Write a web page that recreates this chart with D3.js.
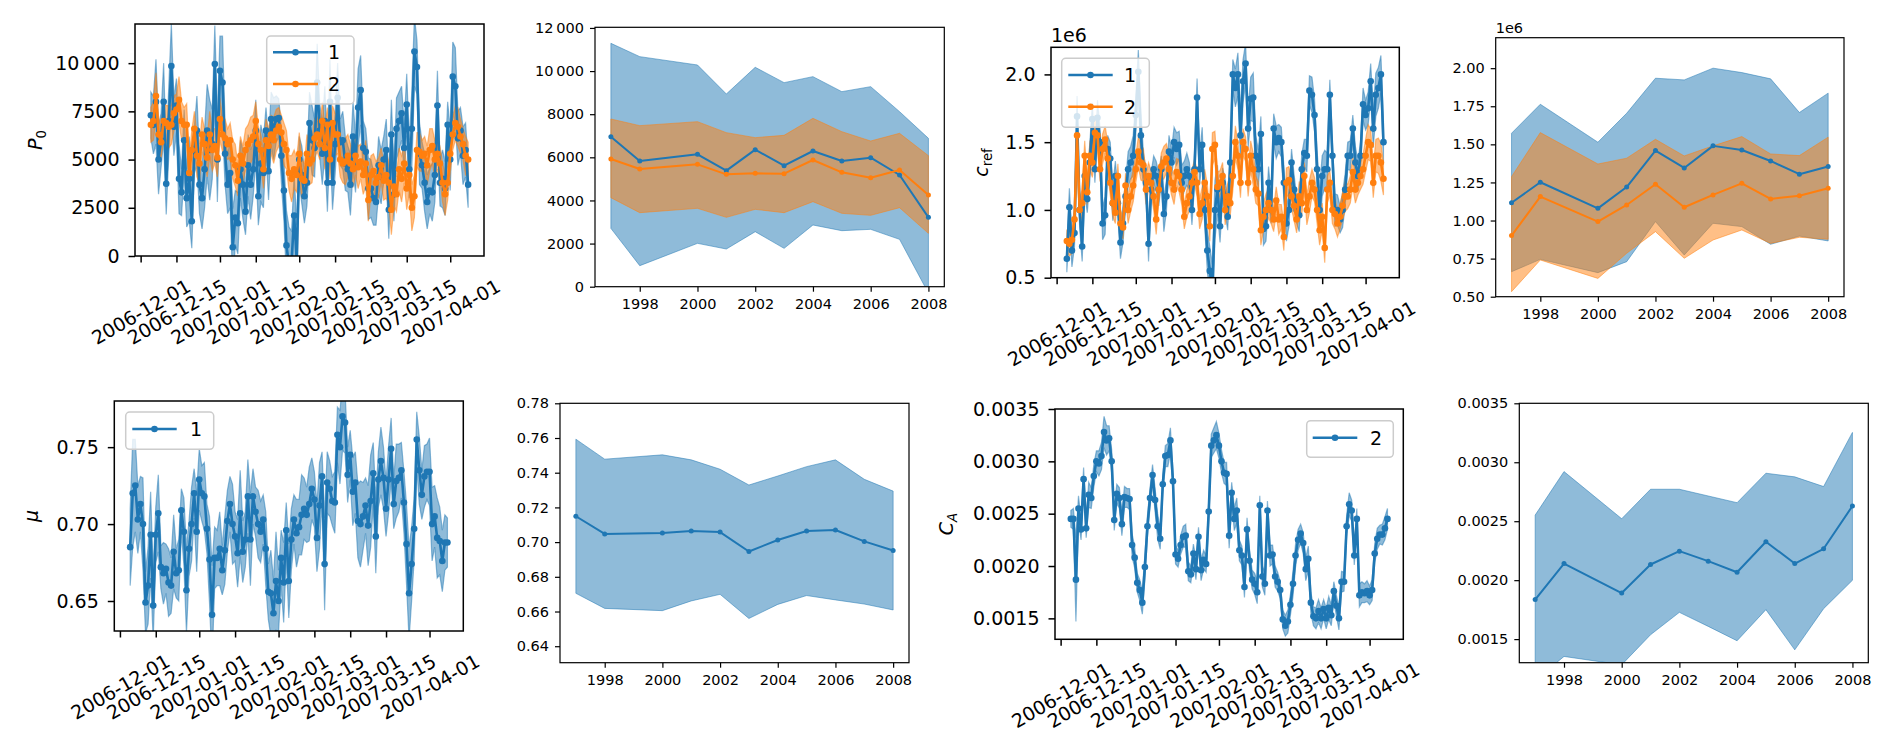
<!DOCTYPE html>
<html>
<head>
<meta charset="utf-8">
<script src="https://cdn.jsdelivr.net/npm/d3@7"></script>
<style>
  html, body { margin: 0; padding: 0; background: #fff; }
  svg { display: block; font-family: "DejaVu Sans", sans-serif; }
</style>
</head>
<body>
<svg id="fig" width="1892" height="752"></svg>
<script>
// ---- daily series (first day 2006-12-05) ----
const tsStart = "2006-12-05";
const tsTicks = ["2006-12-01", "2006-12-15", "2007-01-01", "2007-01-15", "2007-02-01",
                 "2007-02-15", "2007-03-01", "2007-03-15", "2007-04-01"];
const seriesNames = ["1", "2"];

const p0Mean1 = [7300, 6800, 8000, 5000, 6000, 8000, 3750, 7000, 9850, 6700,
  7800, 4000, 3300, 6000, 3000, 4000, 1800, 5500, 6500, 3700,
  3000, 4500, 6500, 5500, 5800, 9950, 5000, 9600, 9000, 5300,
  3700, 4300, 450, 2000, 1700, 4500, 3700, 2300, 4700, 3700,
  4500, 6500, 3100, 4800, 4300, 6500, 4400, 7100, 6600, 7100,
  7150, 5200, 3400, 550, -500, -300, 2100, -200, 5000, 4200,
  3100, 3800, 6900, 6000, 5600, 9000, 6500, 5300, 7000, 3800,
  8000, 3800, 5800, 8200, 5900, 6000, 4800, 4500, 3700, 6200,
  4800, 7700, 8600, 5600, 5400, 3500, 3500, 3000, 2800, 4700,
  4100, 5000, 5500, 2400, 6300, 3200, 6600, 7000, 7400, 5600,
  7850, 4500, 6600, 10600, 9800, 5300, 4700, 3800, 2800, 3400,
  3300, 4200, 7800, 3800, 4000, 3500, 6800, 5000, 9300, 8800,
  6100, 6500, 5200, 5500, 3700];
// half band width, hundreds
const p0Spread1 = [12, 15, 22, 18, 14, 20, 16, 18, 22, 15,
  14, 18, 12, 16, 15, 22, 14, 12, 18, 15,
  16, 20, 24, 26, 18, 20, 22, 18, 24, 16,
  15, 18, 20, 14, 16, 15, 18, 12, 16, 18,
  14, 16, 15, 20, 18, 12, 15, 14, 16, 12,
  10, 14, 16, 18, 20, 16, 22, 18, 12, 15,
  14, 12, 16, 18, 15, 20, 14, 16, 18, 15,
  22, 14, 16, 18, 12, 15, 14, 12, 16, 18,
  15, 20, 18, 14, 12, 16, 15, 14, 12, 15,
  14, 12, 16, 15, 18, 14, 16, 15, 14, 12,
  16, 15, 20, 18, 14, 16, 12, 15, 14, 12,
  15, 14, 18, 12, 15, 14, 12, 16, 18, 20,
  14, 12, 15, 14, 12];
const p0Mean2 = [6800, 7000, 8300, 6300, 5900, 7000, 6900, 6700, 6800, 7400,
  7600, 8100, 7000, 6800, 6800, 4300, 5500, 6600, 5200, 4800,
  6300, 5800, 5100, 6300, 5500, 5700, 5100, 7100, 6300, 6100,
  5800, 6000, 5000, 4700, 3900, 5200, 4800, 5500, 5800, 6000,
  6200, 7000, 5800, 5500, 4500, 6000, 5700, 6300, 6000, 6500,
  6700, 6400, 5800, 5500, 4300, 4000, 4500, 4200, 5300, 4000,
  3900, 5300, 4800, 5000, 6100, 6300, 5800, 7000, 5600, 6800,
  5000, 6900, 6300, 6300, 5000, 4800, 4900, 5200, 4800, 4500,
  5200, 4600, 4900, 4200, 4800, 2900, 4200, 4400, 3800, 4100,
  4700, 3900, 4200, 3800, 2400, 3600, 3200, 4500, 4000, 4800,
  3500, 4200, 2500, 3100, 5500, 5400, 5200, 5300, 4700, 5500,
  5700, 5000, 5300, 4800, 3800, 3200, 3800, 5300, 6300, 6900,
  6700, 6200, 5800, 5200, 5000];
const p0Spread2 = [9, 10, 12, 9, 8, 10, 9, 11, 10, 9,
  8, 12, 10, 9, 11, 8, 10, 9, 11, 10,
  9, 8, 10, 12, 11, 9, 10, 11, 9, 10,
  8, 9, 10, 11, 8, 10, 9, 11, 10, 12,
  11, 10, 9, 8, 10, 11, 9, 10, 12, 11,
  10, 9, 11, 10, 9, 12, 10, 9, 11, 10,
  9, 10, 11, 12, 10, 9, 8, 10, 11, 9,
  10, 9, 11, 10, 9, 10, 12, 11, 10, 9,
  10, 11, 9, 10, 12, 11, 10, 9, 11, 10,
  9, 10, 12, 11, 13, 10, 9, 11, 12, 10,
  11, 10, 12, 11, 9, 10, 8, 9, 10, 11,
  9, 10, 8, 9, 10, 11, 9, 10, 8, 9,
  10, 9, 8, 10, 9];

// c_ref in units of 1e6
const crefMean1 = [0.64, 1.02, 0.70, 0.83, 1.69, 1.00, 0.73, 1.25, 1.08, 1.35,
  1.67, 1.30, 1.68, 1.50, 0.90, 0.96, 1.45, 1.38, 1.05, 1.25,
  1.05, 0.76, 0.90, 1.10, 1.30, 1.35, 1.40, 1.70, 2.02, 1.55,
  1.30, 1.20, 0.75, 1.15, 1.30, 1.25, 1.15, 1.30, 0.97, 1.10,
  1.43, 1.35, 1.50, 1.45, 1.48, 1.20, 1.25, 1.30, 1.25, 1.00,
  1.30, 1.83, 1.30, 1.48, 1.00, 0.70, 0.55, 0.40, 1.00, 1.15,
  0.88, 1.20, 1.10, 0.95, 1.35, 2.00, 1.90, 2.00, 1.55, 1.95,
  2.08, 1.60, 1.82, 1.83, 1.40, 1.30, 1.56, 0.86, 0.88, 1.20,
  1.00, 1.60, 1.50, 1.53, 1.50, 1.20, 0.90, 1.00, 1.35, 1.15,
  1.00, 0.96, 1.30, 1.42, 1.40, 1.88, 1.85, 1.70, 1.30, 1.00,
  1.25, 1.30, 1.30, 1.85, 1.40, 1.00, 1.00, 0.93, 1.00, 1.15,
  1.40, 1.40, 1.60, 1.35, 1.25, 1.40, 1.78, 1.70, 1.75, 1.95,
  1.60, 1.85, 1.90, 2.00, 1.50];
// hundredths
const crefSpread1 = [10, 14, 12, 10, 15, 12, 11, 13, 10, 14,
  12, 10, 13, 11, 12, 14, 10, 12, 13, 11,
  10, 12, 14, 11, 13, 12, 15, 14, 16, 18,
  12, 11, 13, 12, 10, 11, 12, 10, 13, 11,
  12, 10, 11, 12, 10, 13, 11, 12, 10, 11,
  12, 14, 11, 13, 12, 15, 18, 20, 22, 18,
  12, 11, 13, 10, 12, 11, 14, 16, 18, 16,
  15, 14, 16, 18, 15, 14, 13, 12, 11, 12,
  10, 11, 12, 10, 11, 12, 13, 12, 10, 11,
  10, 12, 11, 10, 12, 11, 13, 12, 14, 16,
  15, 14, 12, 11, 10, 12, 11, 10, 13, 12,
  10, 11, 10, 12, 11, 10, 12, 11, 12, 13,
  14, 16, 15, 14, 15];
const crefMean2 = [0.77, 0.75, 0.78, 0.93, 1.55, 1.00, 1.05, 1.40, 1.13, 1.40,
  1.35, 1.57, 1.55, 1.30, 1.45, 1.52, 1.38, 1.20, 1.05, 0.98,
  1.25, 0.90, 0.87, 1.18, 1.00, 1.10, 1.18, 1.30, 1.43, 1.35,
  1.33, 1.15, 1.25, 1.20, 1.10, 0.93, 1.15, 1.32, 1.35, 1.38,
  1.30, 1.20, 1.15, 1.28, 1.25, 1.15, 0.95, 1.05, 1.10, 1.20,
  1.28, 1.20, 0.97, 1.05, 1.20, 1.10, 0.88, 1.45, 1.48, 1.17,
  1.20, 1.25, 1.00, 1.10, 1.05, 1.25, 1.50, 1.40, 1.20, 1.50,
  1.45, 1.20, 1.40, 1.30, 1.15, 1.12, 0.85, 0.95, 1.00, 1.05,
  1.00, 0.93, 1.07, 0.93, 0.95, 0.80, 1.20, 1.22, 1.10, 1.03,
  0.93, 1.10, 1.05, 1.25, 1.00, 1.10, 1.20, 1.15, 1.00, 0.85,
  0.95, 0.72, 1.15, 1.20, 1.00, 0.97, 0.90, 0.95, 1.03, 1.10,
  1.10, 1.15, 1.28, 1.15, 1.20, 1.25, 1.30, 1.40, 1.50, 1.48,
  1.20, 1.40, 1.40, 1.35, 1.23];
const crefSpread2 = [8, 9, 10, 8, 12, 9, 10, 11, 9, 10,
  11, 12, 10, 9, 11, 10, 12, 9, 10, 8,
  9, 10, 8, 9, 10, 11, 12, 10, 11, 13,
  12, 11, 10, 9, 10, 11, 9, 10, 12, 11,
  10, 9, 11, 10, 12, 11, 9, 10, 11, 10,
  9, 10, 11, 12, 10, 9, 11, 12, 10, 11,
  9, 10, 11, 10, 9, 11, 12, 10, 11, 10,
  9, 10, 11, 12, 10, 9, 11, 10, 12, 11,
  10, 9, 10, 11, 9, 10, 11, 10, 9, 11,
  10, 11, 9, 10, 11, 12, 10, 9, 10, 11,
  10, 11, 10, 9, 10, 11, 10, 9, 10, 11,
  9, 10, 11, 10, 9, 10, 11, 12, 13, 12,
  11, 12, 13, 14, 12];

const muMean = [0.685, 0.720, 0.725, 0.703, 0.713, 0.700, 0.649, 0.660, 0.693, 0.647,
  0.693, 0.707, 0.672, 0.668, 0.671, 0.662, 0.660, 0.682, 0.668, 0.670,
  0.709, 0.695, 0.657, 0.684, 0.700, 0.720, 0.695, 0.729, 0.720, 0.718,
  0.697, 0.677, 0.641, 0.678, 0.678, 0.684, 0.670, 0.683, 0.702, 0.713,
  0.700, 0.692, 0.681, 0.707, 0.682, 0.690, 0.718, 0.690, 0.718, 0.708,
  0.700, 0.695, 0.703, 0.684, 0.656, 0.655, 0.642, 0.663, 0.650, 0.678,
  0.662, 0.696, 0.663, 0.690, 0.703, 0.694, 0.698, 0.706, 0.710, 0.706,
  0.713, 0.723, 0.716, 0.691, 0.712, 0.731, 0.674, 0.727, 0.723, 0.715,
  0.714, 0.758, 0.750, 0.770, 0.766, 0.732, 0.745, 0.721, 0.727, 0.702,
  0.700, 0.705, 0.712, 0.699, 0.715, 0.733, 0.692, 0.729, 0.741, 0.730,
  0.710, 0.729, 0.749, 0.713, 0.728, 0.730, 0.735, 0.714, 0.687, 0.655,
  0.674, 0.697, 0.755, 0.735, 0.719, 0.731, 0.734, 0.734, 0.700, 0.705,
  0.691, 0.689, 0.676, 0.688, 0.688];
// thousandths
const muSpread = [25, 35, 30, 22, 18, 30, 20, 25, 28, 22,
  18, 25, 14, 20, 16, 22, 18, 24, 16, 20,
  14, 22, 28, 18, 24, 16, 26, 20, 18, 22,
  16, 28, 32, 20, 18, 24, 16, 22, 20, 18,
  26, 16, 22, 28, 20, 18, 24, 30, 18, 16,
  22, 20, 16, 24, 18, 28, 22, 32, 20, 18,
  26, 18, 24, 20, 16, 22, 18, 26, 20, 18,
  24, 20, 18, 22, 28, 16, 30, 20, 18, 16,
  20, 18, 24, 22, 20, 18, 16, 22, 20, 24,
  28, 22, 18, 26, 30, 20, 24, 18, 22, 20,
  18, 22, 20, 16, 24, 22, 18, 20, 26, 30,
  24, 20, 18, 22, 16, 20, 18, 22, 24, 20,
  26, 22, 20, 18, 16];

const caMean = [0.00245, 0.00245, 0.00187, 0.00255, 0.00235, 0.00283, 0.00236, 0.00268, 0.00265, 0.00286,
  0.00300, 0.00298, 0.00305, 0.00328, 0.00320, 0.00322, 0.00300, 0.00244, 0.00269, 0.00265,
  0.00240, 0.00266, 0.00265, 0.00264, 0.00220, 0.00208, 0.00184, 0.00177, 0.00165, 0.00199,
  0.00238, 0.00265, 0.00287, 0.00263, 0.00238, 0.00226, 0.00278, 0.00305, 0.00306, 0.00320,
  0.00281, 0.00211, 0.00207, 0.00220, 0.00228, 0.00229, 0.00195, 0.00192, 0.00212, 0.00197,
  0.00228, 0.00196, 0.00206, 0.00202, 0.00252, 0.00315, 0.00320, 0.00325, 0.00315, 0.00300,
  0.00289, 0.00288, 0.00229, 0.00270, 0.00245, 0.00253, 0.00215, 0.00210, 0.00180, 0.00235,
  0.00205, 0.00187, 0.00183, 0.00175, 0.00258, 0.00190, 0.00183, 0.00253, 0.00210, 0.00211,
  0.00190, 0.00185, 0.00177, 0.00149, 0.00143, 0.00147, 0.00163, 0.00183, 0.00210, 0.00225,
  0.00231, 0.00222, 0.00197, 0.00207, 0.00165, 0.00152, 0.00150, 0.00157, 0.00150, 0.00159,
  0.00150, 0.00160, 0.00153, 0.00176, 0.00162, 0.00150, 0.00185, 0.00185, 0.00238, 0.00259,
  0.00253, 0.00210, 0.00245, 0.00172, 0.00175, 0.00174, 0.00176, 0.00172, 0.00177, 0.00212,
  0.00226, 0.00230, 0.00230, 0.00236, 0.00245];
// units of 1e-5
const caSpread = [8, 10, 40, 12, 10, 11, 9, 12, 10, 11,
  10, 12, 13, 15, 14, 12, 11, 10, 9, 10,
  11, 10, 9, 10, 11, 10, 9, 10, 11, 12,
  10, 9, 10, 11, 12, 10, 9, 10, 11, 12,
  10, 9, 8, 9, 10, 11, 9, 8, 9, 10,
  9, 10, 9, 8, 10, 11, 12, 13, 12, 11,
  10, 11, 12, 10, 11, 12, 10, 9, 10, 11,
  10, 9, 10, 11, 9, 10, 11, 9, 10, 9,
  10, 9, 8, 9, 10, 11, 10, 12, 11, 10,
  9, 10, 11, 12, 10, 9, 10, 11, 10, 9,
  10, 11, 10, 9, 10, 11, 10, 9, 10, 11,
  10, 9, 10, 11, 10, 9, 10, 9, 10, 9,
  10, 9, 10, 11, 10];

// ---- yearly summaries ----
const years = [1997, 1998, 2000, 2001, 2002, 2003, 2004, 2005, 2006, 2007, 2008];
const yearTicks = [1998, 2000, 2002, 2004, 2006, 2008];

const p0YrMean1 = [6958, 5830, 6139, 5381, 6355, 5613, 6293, 5830, 5984, 5180, 3216];
const p0YrHi1 = [11288, 10670, 10283, 8938, 10175, 9464, 9742, 9046, 9278, 8118, 6881];
const p0YrLo1 = [2706, 974, 2010, 1747, 2551, 1778, 2861, 2598, 2660, 2196, -300];
const p0YrMean2 = [5922, 5458, 5675, 5211, 5257, 5242, 5876, 5304, 5056, 5412, 4252];
const p0YrHi2 = [7778, 7469, 7654, 7144, 6912, 7020, 7809, 7190, 6757, 7113, 6077];
const p0YrLo2 = [4129, 3433, 3634, 3216, 3587, 3433, 3943, 3402, 3309, 3665, 2474];

const crefYrMean1 = [1.117, 1.251, 1.080, 1.220, 1.459, 1.345, 1.490, 1.463, 1.391, 1.304, 1.354];
const crefYrHi1 = [1.573, 1.763, 1.514, 1.704, 1.934, 1.923, 2.000, 1.971, 1.930, 1.709, 1.836];
const crefYrLo1 = [0.664, 0.745, 0.658, 0.730, 0.993, 0.774, 0.982, 0.960, 0.844, 0.898, 0.866];
const crefYrMean2 = [0.901, 1.157, 0.993, 1.102, 1.238, 1.087, 1.168, 1.244, 1.142, 1.163, 1.212];
const crefYrHi2 = [1.288, 1.577, 1.371, 1.409, 1.533, 1.424, 1.490, 1.551, 1.437, 1.426, 1.547];
const crefYrLo2 = [0.533, 0.741, 0.620, 0.785, 0.927, 0.752, 0.872, 0.938, 0.850, 0.890, 0.877];

const muYrMean = [0.7149, 0.7047, 0.7053, 0.7064, 0.7058, 0.6946, 0.7012, 0.7064, 0.7070, 0.7004, 0.6952];
const muYrHi = [0.7593, 0.7478, 0.7503, 0.7474, 0.7420, 0.7329, 0.7381, 0.7435, 0.7474, 0.7362, 0.7294];
const muYrLo = [0.6705, 0.6618, 0.6605, 0.6661, 0.6699, 0.6560, 0.6641, 0.6692, 0.6667, 0.6643, 0.6609];

const caYrMean = [0.001835, 0.002141, 0.001891, 0.002133, 0.002246, 0.002161, 0.002067, 0.002326, 0.002141, 0.002266, 0.002629];
const caYrHi = [0.002552, 0.002921, 0.002521, 0.002771, 0.002771, 0.002714, 0.002657, 0.002907, 0.002876, 0.002794, 0.003253];
const caYrLo = [0.00115, 0.001353, 0.001282, 0.001537, 0.001727, 0.001608, 0.001486, 0.001750, 0.001409, 0.001758, 0.001999];

// ---- axis ticks ----
const p0Ticks = [0, 2500, 5000, 7500, 10000];
const p0YrTicks = [0, 2000, 4000, 6000, 8000, 10000, 12000];
const crefTicks = [0.5, 1.0, 1.5, 2.0];
const crefYrTicks = [0.5, 0.75, 1.0, 1.25, 1.5, 1.75, 2.0];
const muTicks = [0.65, 0.70, 0.75];
const muYrTicks = [0.64, 0.66, 0.68, 0.70, 0.72, 0.74, 0.76, 0.78];
const caTicks = [0.0015, 0.0020, 0.0025, 0.0030, 0.0035];

// ------------------------------------------------------------
const svg = d3.select("#fig");
const blue = "#1f77b4", orange = "#ff7f0e";
const FONT = "DejaVu Sans, sans-serif";
const parse = d3.timeParse("%Y-%m-%d");
const day0 = parse(tsStart);
const dates = d3.range(p0Mean1.length).map(i => d3.timeDay.offset(day0, i));

const big = {fs: 19, tick: 6.5, pad: 9, lw: 1.5, frame: 1.5, line: 2.6, r: 3.3, band: 1.2};
const small = {fs: 14.5, tick: 5, pad: 6, lw: 1.2, frame: 1.2, line: 2, r: 2.5, band: 1};

function fmtP0(v) {
  if (v >= 10000) return Math.floor(v / 1000) + "\u2009" + d3.format("03d")(v % 1000);
  return String(v);
}

function band(mean, spread, unit) {
  return {
    lo: mean.map((m, i) => m - spread[i] * unit),
    hi: mean.map((m, i) => m + spread[i] * unit)
  };
}

function styleAxis(a, st) {
  a.attr("font-family", FONT).attr("font-size", st.fs);
  a.select(".domain").remove();
  a.selectAll(".tick line").attr("stroke", "#000").attr("stroke-width", st.lw);
  a.selectAll(".tick text").attr("fill", "#000");
}

let clipId = 0;
function panel(o) {
  const st = o.st;
  const w = o.right - o.left, h = o.bottom - o.top;
  const g = svg.append("g").attr("transform", `translate(${o.left},${o.top})`);
  const x = o.x.range([0, w]);
  const y = d3.scaleLinear().domain(o.ylim).range([h, 0]);
  const id = "clip" + (clipId++);
  g.append("clipPath").attr("id", id).append("rect").attr("width", w).attr("height", h);
  const plot = g.append("g").attr("clip-path", `url(#${id})`);

  // bands under all lines
  o.series.forEach(s => {
    const area = d3.area()
      .x((d, i) => x(o.xs[i]))
      .y0((d, i) => y(s.lo[i]))
      .y1((d, i) => y(s.hi[i]));
    plot.append("path").datum(s.mean).attr("d", area)
      .attr("fill", s.color).attr("fill-opacity", 0.5)
      .attr("stroke", s.color).attr("stroke-opacity", 0.5).attr("stroke-width", st.band);
  });
  o.series.forEach(s => {
    const line = d3.line().x((d, i) => x(o.xs[i])).y(d => y(d));
    plot.append("path").datum(s.mean).attr("d", line)
      .attr("fill", "none").attr("stroke", s.color)
      .attr("stroke-width", st.line).attr("stroke-linejoin", "round");
    plot.append("g").selectAll("circle").data(s.mean).join("circle")
      .attr("cx", (d, i) => x(o.xs[i])).attr("cy", d => y(d))
      .attr("r", st.r).attr("fill", s.color);
  });

  const ya = g.append("g")
    .call(d3.axisLeft(y).tickValues(o.yticks).tickFormat(o.yfmt).tickSize(st.tick).tickPadding(st.pad));
  styleAxis(ya, st);

  const xa = g.append("g").attr("transform", `translate(0,${h})`)
    .call(d3.axisBottom(x).tickValues(o.xticks).tickFormat(o.xfmt).tickSize(st.tick).tickPadding(7));
  styleAxis(xa, st);
  if (o.rotate) {
    xa.selectAll(".tick text")
      .attr("y", 0).attr("dy", "0.35em").attr("text-anchor", "middle")
      .attr("transform", "translate(0,56) rotate(-30)");
  }

  g.append("rect").attr("width", w).attr("height", h)
    .attr("fill", "none").attr("stroke", "#000").attr("stroke-width", st.frame);

  if (o.offset) {
    g.append("text").attr("x", 0).attr("y", -o.offset.dy)
      .attr("font-size", st.fs).attr("fill", "#000").text(o.offset.text);
  }
}

function legend(L) {
  const g = svg.append("g").attr("font-size", 19);
  g.append("rect").attr("x", L.x0).attr("y", L.y0)
    .attr("width", L.x1 - L.x0).attr("height", L.y1 - L.y0).attr("rx", 4)
    .attr("fill", "#fff").attr("fill-opacity", 0.8)
    .attr("stroke", "#cccccc").attr("stroke-width", 1.5);
  L.items.forEach((it, i) => {
    const yy = L.rows[i];
    g.append("line").attr("x1", L.lx0).attr("x2", L.lx1).attr("y1", yy).attr("y2", yy)
      .attr("stroke", it.color).attr("stroke-width", 2.6);
    g.append("circle").attr("cx", (L.lx0 + L.lx1) / 2).attr("cy", yy).attr("r", 3.3).attr("fill", it.color);
    g.append("text").attr("x", L.tx).attr("y", yy).attr("dy", "0.36em").attr("fill", "#000").text(it.label);
  });
}

function ylabel(x, y, parts) {
  const t = svg.append("text").attr("transform", `translate(${x},${y}) rotate(-90)`)
    .attr("text-anchor", "middle").attr("font-size", 19).attr("fill", "#000");
  parts.forEach(p => {
    const ts = t.append("tspan").text(p.t);
    if (p.italic) ts.attr("font-style", "italic");
    if (p.sub) ts.attr("font-size", 13.3).attr("dy", 4);
  });
}

function timeScale() {
  const a = dates[0], b = dates[dates.length - 1], pad = 0.05 * (b - a);
  return d3.scaleTime().domain([new Date(+a - pad), new Date(+b + pad)]);
}
function yearScale() {
  const a = years[0], b = years[years.length - 1], pad = 0.05 * (b - a);
  return d3.scaleLinear().domain([a - pad, b + pad]);
}
const tsTickDates = tsTicks.map(parse);
const fmtDate = d3.timeFormat("%Y-%m-%d");

const p0b1 = band(p0Mean1, p0Spread1, 100), p0b2 = band(p0Mean2, p0Spread2, 100);
const crb1 = band(crefMean1, crefSpread1, 0.01), crb2 = band(crefMean2, crefSpread2, 0.01);
const mub = band(muMean, muSpread, 0.001), cab = band(caMean, caSpread, 0.00001);

// row 1
panel({left: 135, top: 24, right: 484, bottom: 256, st: big, x: timeScale(), xs: dates,
  ylim: [0, 12030], yticks: p0Ticks, yfmt: fmtP0, xticks: tsTickDates, xfmt: fmtDate, rotate: true,
  series: [{mean: p0Mean1, lo: p0b1.lo, hi: p0b1.hi, color: blue},
           {mean: p0Mean2, lo: p0b2.lo, hi: p0b2.hi, color: orange}]});
panel({left: 595, top: 27.3, right: 944.3, bottom: 286.7, st: small, x: yearScale(), xs: years,
  ylim: [0, 12030], yticks: p0YrTicks, yfmt: fmtP0, xticks: yearTicks, xfmt: d3.format("d"),
  series: [{mean: p0YrMean1, lo: p0YrLo1, hi: p0YrHi1, color: blue},
           {mean: p0YrMean2, lo: p0YrLo2, hi: p0YrHi2, color: orange}]});
panel({left: 1051, top: 47.3, right: 1399.3, bottom: 277.7, st: big, x: timeScale(), xs: dates,
  ylim: [0.5, 2.2], yticks: crefTicks, yfmt: d3.format(".1f"), xticks: tsTickDates, xfmt: fmtDate, rotate: true,
  offset: {text: "1e6", dy: 5.6},
  series: [{mean: crefMean1, lo: crb1.lo, hi: crb1.hi, color: blue},
           {mean: crefMean2, lo: crb2.lo, hi: crb2.hi, color: orange}]});
panel({left: 1495.7, top: 37.7, right: 1844, bottom: 296.7, st: small, x: yearScale(), xs: years,
  ylim: [0.5, 2.2], yticks: crefYrTicks, yfmt: d3.format(".2f"), xticks: yearTicks, xfmt: d3.format("d"),
  offset: {text: "1e6", dy: 4.4},
  series: [{mean: crefYrMean1, lo: crefYrLo1, hi: crefYrHi1, color: blue},
           {mean: crefYrMean2, lo: crefYrLo2, hi: crefYrHi2, color: orange}]});

// row 2
panel({left: 114.3, top: 401, right: 463.3, bottom: 631, st: big, x: timeScale(), xs: dates,
  ylim: [0.6305, 0.780], yticks: muTicks, yfmt: d3.format(".2f"), xticks: tsTickDates, xfmt: fmtDate, rotate: true,
  series: [{mean: muMean, lo: mub.lo, hi: mub.hi, color: blue}]});
panel({left: 560, top: 403.3, right: 909, bottom: 662.7, st: small, x: yearScale(), xs: years,
  ylim: [0.6305, 0.780], yticks: muYrTicks, yfmt: d3.format(".2f"), xticks: yearTicks, xfmt: d3.format("d"),
  series: [{mean: muYrMean, lo: muYrLo, hi: muYrHi, color: blue}]});
panel({left: 1055, top: 409, right: 1403.3, bottom: 639.3, st: big, x: timeScale(), xs: dates,
  ylim: [0.0013, 0.0035], yticks: caTicks, yfmt: d3.format(".4f"), xticks: tsTickDates, xfmt: fmtDate, rotate: true,
  series: [{mean: caMean, lo: cab.lo, hi: cab.hi, color: blue}]});
panel({left: 1519.3, top: 403.3, right: 1868.3, bottom: 662.7, st: small, x: yearScale(), xs: years,
  ylim: [0.0013, 0.0035], yticks: caTicks, yfmt: d3.format(".4f"), xticks: yearTicks, xfmt: d3.format("d"),
  series: [{mean: caYrMean, lo: caYrLo, hi: caYrHi, color: blue}]});

// legends
legend({x0: 266.7, y0: 36, x1: 354, y1: 104, lx0: 273, lx1: 318, tx: 328, rows: [52.3, 84],
  items: [{label: seriesNames[0], color: blue}, {label: seriesNames[1], color: orange}]});
legend({x0: 1061.7, y0: 58.3, x1: 1149.3, y1: 127.3, lx0: 1068.3, lx1: 1112.7, tx: 1124, rows: [75, 106.7],
  items: [{label: seriesNames[0], color: blue}, {label: seriesNames[1], color: orange}]});
legend({x0: 125.7, y0: 412, x1: 213.7, y1: 449.3, lx0: 132.3, lx1: 176.7, tx: 190, rows: [429],
  items: [{label: seriesNames[0], color: blue}]});
legend({x0: 1306.7, y0: 420.7, x1: 1393.3, y1: 457.3, lx0: 1312.7, lx1: 1357.3, tx: 1370, rows: [437.7],
  items: [{label: seriesNames[1], color: blue}]});

// y labels
ylabel(42, 140, [{t: "P", italic: true}, {t: "0", sub: true}]);
ylabel(988, 162.5, [{t: "c", italic: true}, {t: "ref", sub: true}]);
ylabel(38, 516, [{t: "\u03bc", italic: true}]);
ylabel(953, 524, [{t: "C", italic: true}, {t: "A", italic: true, sub: true}]);
</script>
</body>
</html>
